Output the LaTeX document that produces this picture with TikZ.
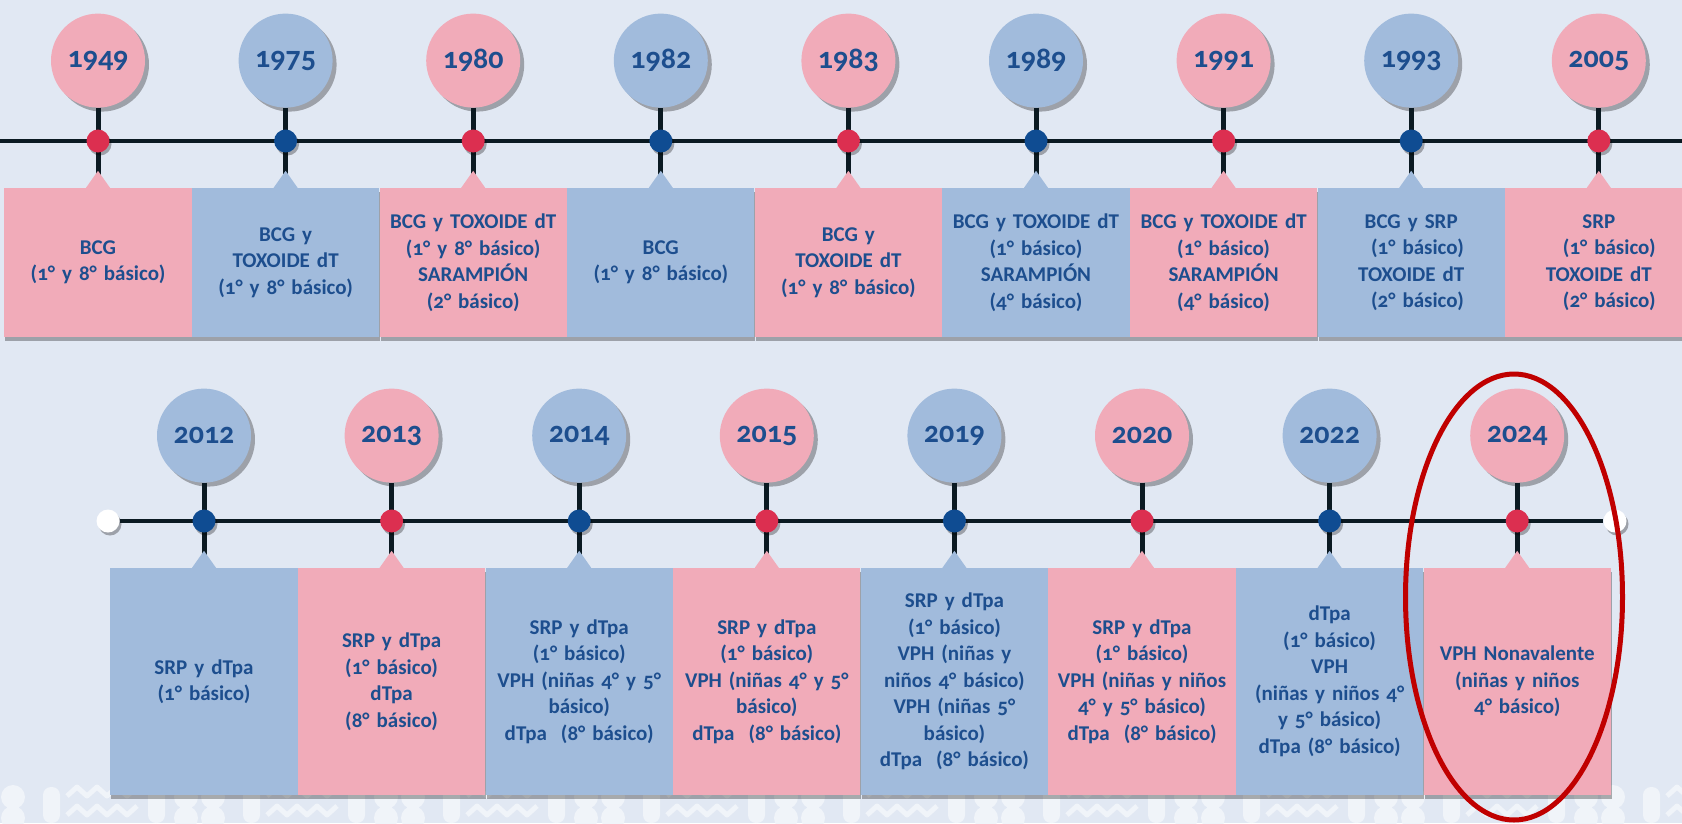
\documentclass[tikz,border=0pt]{standalone}
\usepackage{fontspec}
\setmainfont{Carlito}[Numbers=OldStyle]
\usepackage{tikz}
\usetikzlibrary{positioning,shadows,shapes.geometric}
\definecolor{fondo}{HTML}{E1E8F3}
\definecolor{rosa}{HTML}{F1ABB9}
\definecolor{celeste}{HTML}{A1BBDC}
\definecolor{azultx}{HTML}{1D4E8E}
\definecolor{rojo}{HTML}{DC2F50}
\definecolor{azulpt}{HTML}{0F4C92}
\definecolor{linea}{HTML}{0B1A22}
\definecolor{marca}{HTML}{C00000}
\tikzset{
  caja/.style={rectangle, fill=#1, minimum width=187.2pt, minimum height=149pt, text width=178pt,
               align=center, inner sep=2pt, text=azultx, font=\bfseries\fontsize{21}{26.5}\selectfont,
               drop shadow={shadow xshift=1pt, shadow yshift=-4pt, opacity=.3, fill=black}},
  burbuja/.style={circle, fill=#1, minimum size=94pt, inner sep=0pt, text=azultx,
                  font=\bfseries\fontsize{30}{32}\selectfont,
                  drop shadow={shadow xshift=4pt, shadow yshift=-4pt, opacity=.3, fill=black}},
  punto/.style={circle, fill=#1, minimum size=23pt, inner sep=0pt,
                drop shadow={shadow xshift=2pt, shadow yshift=-3pt, opacity=.3, fill=black}},
  tallo/.style={line width=5pt, draw=linea},
  eje/.style={line width=4pt, draw=linea},
  deco/.style={white!50!fondo},
}

\begin{document}
\begin{tikzpicture}[x=1pt, y=-1pt, node distance=80pt]
  \fill[fondo] (0,0) rectangle (1682,823);
  \useasboundingbox (0,0) rectangle (1682,823);
  % motivo del fondo
  \foreach \px in {-200,0,...,1600}{
    \draw[deco, line width=5pt, line join=round] (\px+67,796) -- ++(10,-9) -- ++(10,9) -- ++(10,-9) -- ++(10,9) -- ++(10,-9) -- ++(10,9) -- ++(10,-9);
    \draw[deco, line width=5pt, line join=round] (\px+67,815) -- ++(10,-9) -- ++(10,9) -- ++(10,-9) -- ++(10,9) -- ++(10,-9) -- ++(10,9) -- ++(10,-9);
    \fill[deco, rounded corners=8pt] (\px+148,787) rectangle (\px+165,823);
    \fill[deco] (\px+186,797) circle[radius=12pt] (\px+186,818) circle[radius=12pt]
                (\px+213,797) circle[radius=12pt] (\px+213,818) circle[radius=12pt];
    \fill[deco, rounded corners=8pt] (\px+243,787) rectangle (\px+260,823);
  }

  % fila superior
  \node[caja=rosa] (v1949) at (98,262.5) {BCG\\(1° y 8° básico)};
  \node[caja=celeste, right=0pt of v1949] (v1975) {BCG y\\TOXOIDE dT\\(1° y 8° básico)};
  \node[caja=rosa, right=0pt of v1975] (v1980) {BCG y TOXOIDE dT\\(1° y 8° básico)\\SARAMPIÓN\\(2° básico)};
  \node[caja=celeste, right=0pt of v1980] (v1982) {BCG\\(1° y 8° básico)};
  \node[caja=rosa, right=0pt of v1982] (v1983) {BCG y\\TOXOIDE dT\\(1° y 8° básico)};
  \node[caja=celeste, right=0pt of v1983] (v1989) {BCG y TOXOIDE dT\\(1° básico)\\SARAMPIÓN\\(4° básico)};
  \node[caja=rosa, right=0pt of v1989] (v1991) {BCG y TOXOIDE dT\\(1° básico)\\SARAMPIÓN\\(4° básico)};
  \node[caja=celeste, right=0pt of v1991] (v1993) {BCG y SRP\\\hspace*{.6em}(1° básico)\\TOXOIDE dT\\\hspace*{.6em}(2° básico)};
  \node[caja=rosa, right=0pt of v1993] (v2005) {SRP\\\hspace*{1em}(1° básico)\\TOXOIDE dT\\\hspace*{1em}(2° básico)};

  \node[burbuja=rosa, above=of v1949] (a1949) {1949};
  \node[burbuja=celeste, above=of v1975] (a1975) {1975};
  \node[burbuja=rosa, above=of v1980] (a1980) {1980};
  \node[burbuja=celeste, above=of v1982] (a1982) {1982};
  \node[burbuja=rosa, above=of v1983] (a1983) {1983};
  \node[burbuja=celeste, above=of v1989] (a1989) {1989};
  \node[burbuja=rosa, above=of v1991] (a1991) {1991};
  \node[burbuja=celeste, above=of v1993] (a1993) {1993};
  \node[burbuja=rosa, above=of v2005] (a2005) {2005};

  \coordinate (ini) at (0,141);
  \coordinate (fin) at (1682,141);
  \draw[eje] (ini) -- (fin);
  \foreach \yr/\cl/\pk in {1949/rosa/rojo, 1975/celeste/azulpt, 1980/rosa/rojo, 1982/celeste/azulpt,
      1983/rosa/rojo, 1989/celeste/azulpt, 1991/rosa/rojo, 1993/celeste/azulpt, 2005/rosa/rojo}{
    \draw[tallo] (a\yr) -- (v\yr.north);
    \fill[\cl] ([xshift=-12pt]v\yr.north) -- ([yshift=17pt]v\yr.north) -- ([xshift=12pt]v\yr.north) -- cycle;
    \node[punto=\pk] (p\yr) at (a\yr |- ini) {};
  }

  % fila inferior
  \node[caja=celeste, minimum height=227pt] (v2012) at (204,681.5) {SRP y dTpa\\(1° básico)};
  \node[caja=rosa, minimum height=227pt, right=0pt of v2012] (v2013) {SRP y dTpa\\(1° básico)\\dTpa\\(8° básico)};
  \node[caja=celeste, minimum height=227pt, right=0pt of v2013] (v2014) {SRP y dTpa\\(1° básico)\\VPH (niñas 4° y 5°\\básico)\\dTpa\ \ (8° básico)};
  \node[caja=rosa, minimum height=227pt, right=0pt of v2014] (v2015) {SRP y dTpa\\(1° básico)\\VPH (niñas 4° y 5°\\básico)\\dTpa\ \ (8° básico)};
  \node[caja=celeste, minimum height=227pt, right=0pt of v2015] (v2019) {SRP y dTpa\\(1° básico)\\VPH (niñas y\\niños 4° básico)\\VPH (niñas 5°\\básico)\\dTpa\ \ (8° básico)};
  \node[caja=rosa, minimum height=227pt, right=0pt of v2019] (v2020) {SRP y dTpa\\(1° básico)\\VPH (niñas y niños\\4° y 5° básico)\\dTpa\ \ (8° básico)};
  \node[caja=celeste, minimum height=227pt, right=0pt of v2020] (v2022) {dTpa\\(1° básico)\\VPH\\(niñas y niños 4°\\y 5° básico)\\dTpa (8° básico)};
  \node[caja=rosa, minimum height=227pt, right=0pt of v2022] (v2024) {VPH Nonavalente\\(niñas y niños\\4° básico)};

  \node[burbuja=celeste, above=85pt of v2012] (a2012) {2012};
  \node[burbuja=rosa, above=85pt of v2013] (a2013) {2013};
  \node[burbuja=celeste, above=85pt of v2014] (a2014) {2014};
  \node[burbuja=rosa, above=85pt of v2015] (a2015) {2015};
  \node[burbuja=celeste, above=85pt of v2019] (a2019) {2019};
  \node[burbuja=rosa, above=85pt of v2020] (a2020) {2020};
  \node[burbuja=celeste, above=85pt of v2022] (a2022) {2022};
  \node[burbuja=rosa, above=85pt of v2024] (a2024) {2024};

  \node[punto=white] (w1) at (108,521) {};
  \node[punto=white] (w2) at (1615,521) {};
  \draw[eje] (w1) -- (w2);
  \foreach \yr/\cl/\pk in {2012/celeste/azulpt, 2013/rosa/rojo, 2014/celeste/azulpt, 2015/rosa/rojo,
      2019/celeste/azulpt, 2020/rosa/rojo, 2022/celeste/azulpt, 2024/rosa/rojo}{
    \draw[tallo] (a\yr) -- (v\yr.north);
    \fill[\cl] ([xshift=-12pt]v\yr.north) -- ([yshift=17pt]v\yr.north) -- ([xshift=12pt]v\yr.north) -- cycle;
    \node[punto=\pk] (p\yr) at (a\yr |- w1) {};
  }

  \node[ellipse, draw=marca, line width=5pt, minimum width=217pt, minimum height=446pt, inner sep=0pt] (sel) at (1514,597) {};
\end{tikzpicture}
\end{document}
